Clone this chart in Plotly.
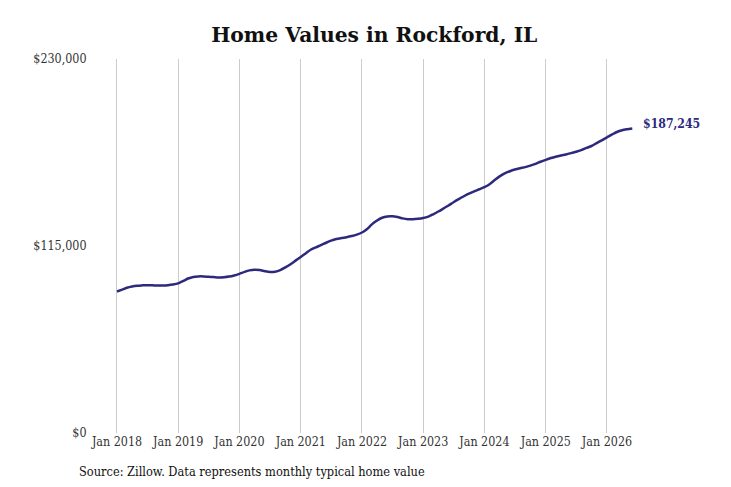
import plotly.graph_objects as go
import pandas as pd

dates = pd.date_range("2018-01-01", "2026-06-01", freq="MS")
values = [
    87000, 88200, 89300, 90100, 90600, 90800, 90900, 90800, 90700, 90700, 90900, 91300,
    92000, 93500, 95000, 96000, 96300, 96300, 96100, 95900, 95700, 95800, 96200, 96900,
    97900, 99100, 100000, 100400, 100200, 99500, 99000, 99200, 100200, 101800, 103800, 106000,
    108300, 110600, 112700, 114200, 115500, 117000, 118300, 119300, 119900, 120400, 121100, 122000,
    123300, 125500, 128300, 130700, 132400, 133200, 133300, 132800, 132000, 131500, 131400, 131700,
    132200, 133100, 134500, 136200, 138000, 139900, 141900, 143800, 145600, 147200, 148600, 149900,
    151200, 153000, 155400, 157800, 159700, 161000, 162000, 162800, 163500, 164400, 165500, 166800,
    168000, 169100, 169900, 170600, 171300, 172100, 173000, 174000, 175300, 176500, 178300, 180000,
    181800, 183600, 185100, 186200, 186800, 187245,
]
tick_dates = [f"{y}-01-01" for y in range(2018, 2027)]
tick_labels = [f"Jan {y}" for y in range(2018, 2027)]
y_ticks = [0, 115000, 230000]
y_labels = ["$0", "$115,000", "$230,000"]
end_label = "$187,245"

LINE = "#2d2a7e"
TICKFONT = dict(family="DejaVu Serif Condensed, Liberation Serif, serif", size=12.4, color="#333333")

fig = go.Figure()
fig.add_trace(go.Scatter(
    x=dates, y=values, mode="lines",
    line=dict(color=LINE, width=2.5, shape="spline", smoothing=0.8),
    hoverinfo="skip", showlegend=False,
))
fig.add_annotation(
    x=dates[-1], y=values[-1], text=f"<b>{end_label}</b>", showarrow=False,
    xanchor="left", yanchor="middle", xshift=9, yshift=5,
    font=dict(family="DejaVu Serif Condensed, DejaVu Serif, serif", size=12.2, color=LINE),
)
fig.add_annotation(
    xref="paper", yref="paper", x=-0.033, y=-0.104, xanchor="left", yanchor="middle",
    text="Source: Zillow. Data represents monthly typical home value", showarrow=False,
    font=dict(family="DejaVu Serif Condensed, Liberation Serif, serif", size=12.7, color="#111111"),
)
fig.update_layout(
    width=731, height=487,
    margin=dict(l=95, r=91, t=59, b=54),
    paper_bgcolor="white", plot_bgcolor="white",
    title=dict(text="<b>Home Values in Rockford, IL</b>", x=0.512, xanchor="center", y=0.928, yanchor="middle",
               font=dict(family="DejaVu Serif, serif", size=20.3, color="#111111")),
    xaxis=dict(
        range=["2017-08-23", "2026-07-17"], tickvals=tick_dates, ticktext=tick_labels,
        showgrid=True, gridcolor="#cccccc", gridwidth=1, zeroline=False, showline=False,
        ticks="", tickfont=TICKFONT,
    ),
    yaxis=dict(
        range=[0, 230000], tickvals=y_ticks, ticktext=y_labels,
        showgrid=False, zeroline=False, showline=False,
        ticks="outside", ticklen=5, tickcolor="rgba(0,0,0,0)", tickfont=TICKFONT,
    ),
)
fig.write_html("out.html", config={"displayModeBar": False},
               post_script="document.body.style.margin='0';document.body.style.overflow='hidden';")
